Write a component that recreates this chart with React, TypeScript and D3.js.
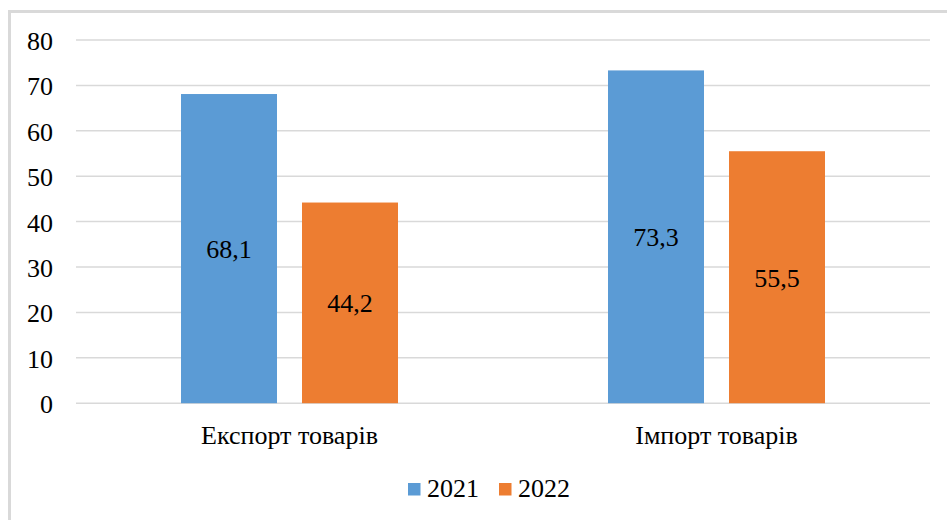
import React from "react";
import * as d3 from "d3";

const categories = ["Експорт товарів", "Імпорт товарів"];
const seriesNames = ["2021", "2022"];
const values2021 = [68.1, 73.3];
const values2022 = [44.2, 55.5];
const labels2021 = ["68,1", "73,3"];
const labels2022 = ["44,2", "55,5"];
const yTicks = [0, 10, 20, 30, 40, 50, 60, 70, 80];
const colors = ["#5b9bd5", "#ed7d31"];

const W = 947;
const H = 520;
const txt = { fontFamily: "'Liberation Serif', 'Times New Roman', serif", fontSize: 26, fill: "#000" } as React.CSSProperties;

export default function App() {
  const x0 = d3.scaleBand().domain(categories).range([76, 930]).paddingInner(0).paddingOuter(0);
  const y = d3.scaleLinear().domain([0, 80]).range([403.2, 40]);
  const groupW = 217;
  const x1 = d3.scaleBand().domain(seriesNames).range([0, groupW]).paddingInner(25 / 121).paddingOuter(0);
  const series = [values2021, values2022];
  const labels = [labels2021, labels2022];

  return (
    <svg width={W} height={H} style={{ position: "absolute", left: 0, top: 0, display: "block", background: "#fff" }}>
      <rect x={9.5} y={11.5} width={W + 10} height={H + 10} fill="#fff" stroke="#d9d9d9" strokeWidth={3} />
      {yTicks.map((t) => (
        <g key={t}>
          <line x1={76} x2={930} y1={y(t)} y2={y(t)} stroke="#d9d9d9" strokeWidth={1.5} />
          <text x={53} y={y(t) + 10} textAnchor="end" style={txt}>
            {t}
          </text>
        </g>
      ))}
      {categories.map((c, i) => {
        const gx = (x0(c) as number) + x0.bandwidth() / 2 - groupW / 2;
        return (
          <g key={c}>
            {series.map((vals, s) => {
              const bx = gx + (x1(seriesNames[s]) as number);
              const bw = x1.bandwidth();
              const top = y(vals[i]);
              const bottom = y(0);
              return (
                <g key={s}>
                  <rect x={bx} y={top} width={bw} height={bottom - top} fill={colors[s]} />
                  <text x={bx + bw / 2} y={(top + bottom) / 2 + 9.5} textAnchor="middle" style={txt}>
                    {labels[s][i]}
                  </text>
                </g>
              );
            })}
            <text x={(x0(c) as number) + x0.bandwidth() / 2} y={444} textAnchor="middle" style={txt}>
              {c}
            </text>
          </g>
        );
      })}
      {seriesNames.map((s, i) => {
        const lx = 408 + i * 91;
        return (
          <g key={s}>
            <rect x={lx} y={483} width={12.5} height={12.5} fill={colors[i]} />
            <text x={lx + 19} y={497} style={txt}>
              {s}
            </text>
          </g>
        );
      })}
    </svg>
  );
}
